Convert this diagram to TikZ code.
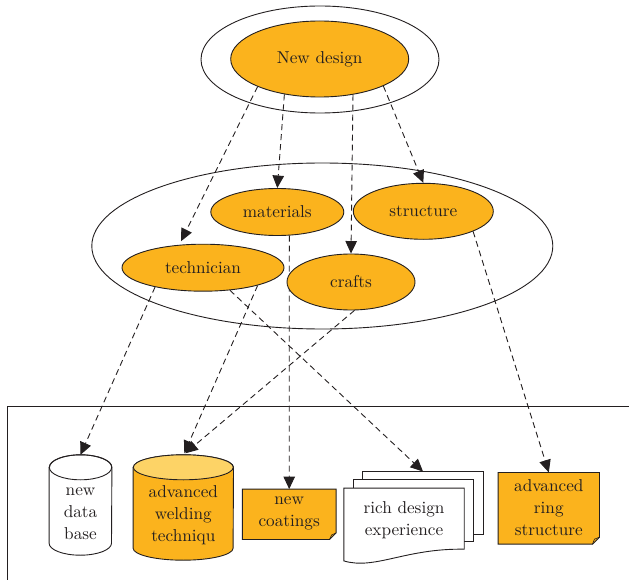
\documentclass[tikz,border=0pt]{standalone}
\usepackage{fontspec}
\setmainfont{lmroman10-regular.otf}
\usetikzlibrary{shapes.geometric,arrows.meta,backgrounds}
\definecolor{ringorange}{HTML}{FBB31D}
\definecolor{lidorange}{HTML}{FDD366}
\definecolor{ink}{HTML}{231F20}
\begin{document}
\begin{tikzpicture}[x=1pt,y=-1pt,
  every node/.style={font=\fontsize{17.2}{22}\selectfont, text=ink, align=center},
  idea/.style={ellipse, draw=ink, line width=0.9pt, fill=ringorange, inner sep=0pt},
  ring/.style={ellipse, draw=ink, line width=0.9pt, inner sep=0pt},
  slot/.style={rectangle, draw=none, inner sep=0pt},
  outline/.style={draw=ink, line width=0.9pt},
  link/.style={draw=ink, line width=0.9pt, dash pattern=on 6pt off 4pt,
    -{Triangle[length=12.5pt,width=11.5pt]}}]
\useasboundingbox (0,0) rectangle (629,580);

% top level
\node[ring, minimum width=238pt, minimum height=107pt] (topring) at (320,59.5) {};
\node[idea, minimum width=178pt, minimum height=76pt] (nd) at (319.7,59) {New design};

% middle level
\node[ring, minimum width=461pt, minimum height=166pt] (midring) at (322.3,246) {};
\node[idea, minimum width=133pt, minimum height=47pt] (mat) at (277.3,212) {materials};
\node[idea, minimum width=140pt, minimum height=56pt] (struct) at (423.3,211.3) {structure};
\node[idea, minimum width=162pt, minimum height=47pt] (tech) at (203,267.7) {technician};
\node[idea, minimum width=128pt, minimum height=56pt] (crafts) at (351,282) {crafts};

% bottom level: frame
\draw[outline] (7.5,600) -- (7.5,406.7) -- (640,406.7);

% database cylinder
\node[slot, minimum width=62.4pt, minimum height=100pt] (base) at (80.5,505) {};
\draw[outline, fill=white] ([yshift=-12.5pt]base.north west) -- ([yshift=12pt]base.south west)
  arc[start angle=180, end angle=360, x radius=31.2pt, y radius=12pt]
  -- ([yshift=-12.5pt]base.north east)
  arc[start angle=0, end angle=180, x radius=31.2pt, y radius=12.5pt] -- cycle;
\draw[outline] ([yshift=-12.5pt]base.north) ellipse[x radius=31.2pt, y radius=12.5pt];
\node (basetext) at ([yshift=-9pt]base.center) {new\\data\\base};

% welding cylinder
\node[slot, minimum width=100pt, minimum height=105pt] (weld) at (183.3,507.5) {};
\draw[outline, fill=ringorange] ([yshift=-12.5pt]weld.north west) -- ([yshift=12pt]weld.south west)
  arc[start angle=180, end angle=360, x radius=50pt, y radius=12pt]
  -- ([yshift=-12.5pt]weld.north east)
  arc[start angle=0, end angle=180, x radius=50pt, y radius=12.5pt] -- cycle;
\draw[outline, fill=lidorange] ([yshift=-12.5pt]weld.north) ellipse[x radius=50pt, y radius=12.5pt];
\node (weldtext) at ([yshift=-7.5pt]weld.center) {advanced\\welding\\techniqu};

% note with folded corner
\node[slot, minimum width=93.4pt, minimum height=50pt] (coat) at (289.2,514.3) {};
\draw[outline, fill=ringorange] (coat.north west) -- (coat.north east)
  -- ([yshift=6.5pt]coat.south east) -- ([xshift=-6.5pt]coat.south east)
  -- (coat.south west) -- cycle;
\draw[outline, line width=0.6pt] ([xshift=-6.5pt]coat.south east)
  .. controls ([xshift=-6pt,yshift=3pt]coat.south east) .. ([xshift=-4.5pt,yshift=4.5pt]coat.south east)
  -- ([yshift=6.5pt]coat.south east);
\node (coattext) at ([yshift=1pt]coat.center) {new\\coatings};

% stacked documents
\node[slot, minimum width=120.6pt, minimum height=62.3pt] (rich3) at (423,502.85) {};
\node[slot, minimum width=120pt, minimum height=61.7pt] (rich2) at (413.3,510.85) {};
\node[slot, minimum width=120pt, minimum height=62pt] (rich) at (404,519.3) {};
\draw[outline, fill=white] (rich3.north west) rectangle (rich3.south east);
\draw[outline, fill=white] (rich2.north west) rectangle (rich2.south east);
\draw[outline, fill=white] (rich.north west) -- (rich.north east) -- ([yshift=1.3pt]rich.south east)
  .. controls ([xshift=-59pt,yshift=2.3pt]rich.south east) and ([xshift=31pt,yshift=-19.7pt]rich.south west)
  .. ([yshift=-10.4pt]rich.south west) -- cycle;
\node (richtext) at ([yshift=-0.7pt]rich.center) {rich design\\experience};

% second note with folded corner
\node[slot, minimum width=101pt, minimum height=71.3pt] (ring) at (548.8,508.3) {};
\draw[outline, fill=ringorange] (ring.north west) -- (ring.north east)
  -- ([yshift=7pt]ring.south east) -- ([xshift=-7pt]ring.south east)
  -- (ring.south west) -- cycle;
\draw[outline, line width=0.6pt] ([xshift=-7pt]ring.south east)
  .. controls ([xshift=-6.5pt,yshift=3pt]ring.south east) .. ([xshift=-5pt,yshift=5pt]ring.south east)
  -- ([yshift=7pt]ring.south east);
\node (ringtext) at ([yshift=0.8pt]ring.center) {advanced\\ring\\structure};

% dashed links, kept beneath the filled shapes
\begin{pgfonlayer}{background}
\draw[link, shorten >=4pt] (nd.204) -- (tech.136);
\draw[link] (nd.225) -- (mat.north);
\draw[link] (nd.313) -- (crafts.north);
\draw[link] (nd.337) -- (struct.north);
\draw[link] (tech.202) -- (base.north);
\draw[link] (tech.342) -- ([xshift=1pt,yshift=1.5pt]weld.north);
\draw[link] (crafts.277) -- ([xshift=2pt,yshift=1.5pt]weld.north);
\draw[link] (mat.297) -- (coat.north);
\draw[link] (tech.320) -- (rich3.north);
\draw[link] (struct.338) -- (ring.north);
\end{pgfonlayer}
\end{tikzpicture}
\end{document}
